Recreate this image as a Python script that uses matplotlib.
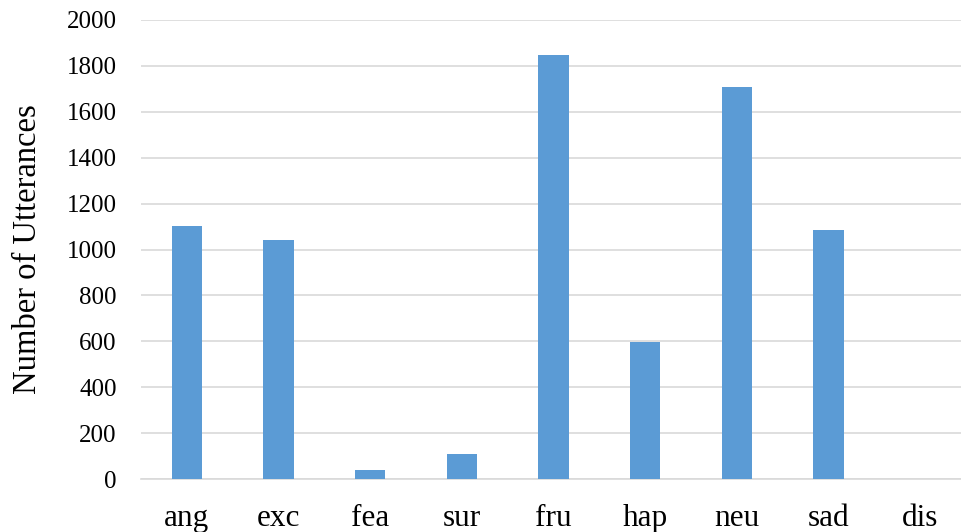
import matplotlib
matplotlib.use("Agg")
import matplotlib.pyplot as plt

# --- Data ---
emotions = ['ang', 'exc', 'fea', 'sur', 'fru', 'hap', 'neu', 'sad', 'dis']
counts = [1103, 1041, 40, 107, 1849, 595, 1708, 1084, 2]
y_ticks = [0, 200, 400, 600, 800, 1000, 1200, 1400, 1600, 1800, 2000]

plt.rcParams['font.family'] = ['Liberation Serif', 'DejaVu Serif']

fig = plt.figure(figsize=(9.62, 5.32), dpi=100)
ax = fig.add_axes([141 / 962, 53 / 532, 825 / 962, 459 / 532])

x = range(len(emotions))
ax.bar(x, counts, width=0.33, color='#5B9BD5', zorder=3)

ax.set_xlim(-0.5, len(emotions) - 0.5)
ax.set_ylim(0, 2000)
ax.set_yticks(y_ticks)
ax.set_xticks(list(x))
ax.set_xticklabels(emotions)

# light horizontal gridlines, no frame
ax.grid(axis='y', color='#D9D9D9', linewidth=1.2, zorder=0)
for side in ['top', 'right', 'left']:
    ax.spines[side].set_visible(False)
ax.spines['bottom'].set_color('#D9D9D9')
ax.spines['bottom'].set_linewidth(1.2)

ax.tick_params(axis='y', length=0, pad=17.5, labelsize=18)
# the reference crops the bottom of the category labels
ax.tick_params(axis='x', length=0, pad=18, labelsize=22.5)
ax.set_ylabel('Number of Utterances', fontsize=23.5, labelpad=17)

fig.savefig('out.png', dpi=100)
